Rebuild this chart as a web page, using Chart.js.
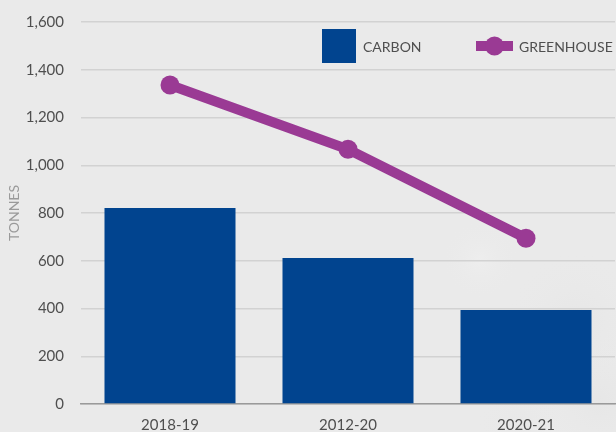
<!DOCTYPE html>
<html>
<head>
<meta charset="utf-8">
<script src="https://cdn.jsdelivr.net/npm/chart.js@4/dist/chart.umd.min.js"></script>
<style>
  html, body { margin: 0; padding: 0; background: #eaeaea; }
  #wrap { width: 616px; height: 432px; position: relative; }
</style>
</head>
<body>
<div id="wrap"><canvas id="chart" width="616" height="432"></canvas></div>
<script>
// Emissions per reporting period, in tonnes
const periods = ['2018-19', '2012-20', '2020-21'];
const carbon = [821, 612, 394];
const greenhouse = [1336, 1067, 694];
const yTicks = [0, 200, 400, 600, 800, 1000, 1200, 1400, 1600];

const BLUE = '#01448f';
const PURPLE = '#9a3a94';
const TEXT = '#4f4f4f';
const FONT = 'Lato, "Open Sans", sans-serif';

// Soft grey backdrop with a faint cloudy patch towards the lower right
const backdrop = {
  id: 'backdrop',
  beforeDraw(chart) {
    const { ctx, width, height } = chart;
    ctx.save();
    ctx.fillStyle = '#eaeaea';
    ctx.fillRect(0, 0, width, height);
    const blobs = [
      [575, 320, 70, 'rgba(215,215,215,0.18)'],
      [600, 400, 70, 'rgba(212,212,212,0.16)'],
      [520, 425, 45, 'rgba(220,220,220,0.15)'],
      [480, 260, 40, 'rgba(246,246,246,0.3)']
    ];
    for (const [x, y, r, c] of blobs) {
      const g = ctx.createRadialGradient(x, y, 0, x, y, r);
      g.addColorStop(0, c);
      g.addColorStop(1, 'rgba(234,234,234,0)');
      ctx.fillStyle = g;
      ctx.fillRect(x - r, y - r, 2 * r, 2 * r);
    }
    ctx.restore();
  }
};

// Legend: square swatch for the bars, line-with-dot swatch for the line
const customLegend = {
  id: 'customLegend',
  afterDraw(chart) {
    const { ctx } = chart;
    const bars = chart.data.datasets.find(d => d.type === 'bar');
    const line = chart.data.datasets.find(d => d.type === 'line');
    ctx.save();
    ctx.font = '14px ' + FONT;
    ctx.textBaseline = 'middle';
    ctx.fillStyle = bars.backgroundColor;
    ctx.fillRect(322, 29, 34, 34);
    ctx.fillStyle = TEXT;
    ctx.fillText(bars.label, 363, 47);

    ctx.fillStyle = line.borderColor;
    ctx.fillRect(476, 41, 37, 10);
    ctx.beginPath();
    ctx.arc(494.5, 46, 9.5, 0, Math.PI * 2);
    ctx.fill();
    ctx.fillStyle = TEXT;
    ctx.fillText(line.label, 519, 47);
    ctx.restore();
  }
};

new Chart(document.getElementById('chart'), {
  data: {
    labels: periods,
    datasets: [
      {
        type: 'line',
        label: 'GREENHOUSE',
        data: greenhouse,
        borderColor: PURPLE,
        backgroundColor: PURPLE,
        borderWidth: 10,
        pointRadius: 9.5,
        pointHoverRadius: 9.5,
        pointBackgroundColor: PURPLE,
        pointBorderWidth: 0,
        tension: 0,
        order: 0
      },
      {
        type: 'bar',
        label: 'CARBON',
        data: carbon,
        backgroundColor: BLUE,
        borderWidth: 0,
        categoryPercentage: 1,
        barPercentage: 0.736,
        order: 1
      }
    ]
  },
  options: {
    responsive: false,
    animation: false,
    layout: { autoPadding: false, padding: { top: 22, right: 1, left: 0, bottom: 0 } },
    plugins: {
      legend: { display: false },
      tooltip: { enabled: false }
    },
    scales: {
      x: {
        grid: { display: false, drawTicks: false },
        border: { display: true, color: '#9a9a9a', width: 1.5 },
        ticks: { color: TEXT, font: { family: FONT, size: 15 }, padding: 12 },
        afterFit(axis) { axis.height = 28; }
      },
      y: {
        min: 0,
        max: 1600,
        afterBuildTicks(axis) { axis.ticks = yTicks.map(v => ({ value: v })); },
        grid: { color: '#d2d2d2', lineWidth: 1.5, drawTicks: false },
        border: { display: false },
        ticks: {
          color: TEXT,
          font: { family: FONT, size: 15 },
          padding: 17,
          callback: v => v.toLocaleString('en-US')
        },
        title: {
          display: true,
          text: 'TONNES',
          color: '#9a9a9a',
          font: { family: FONT, size: 14 },
          padding: { top: 6, bottom: 0 }
        },
        afterFit(axis) {
          axis.width = 81;
          axis.paddingTop = 0;
          axis.paddingBottom = 0;
        }
      }
    }
  },
  plugins: [backdrop, customLegend]
});
</script>
</body>
</html>
